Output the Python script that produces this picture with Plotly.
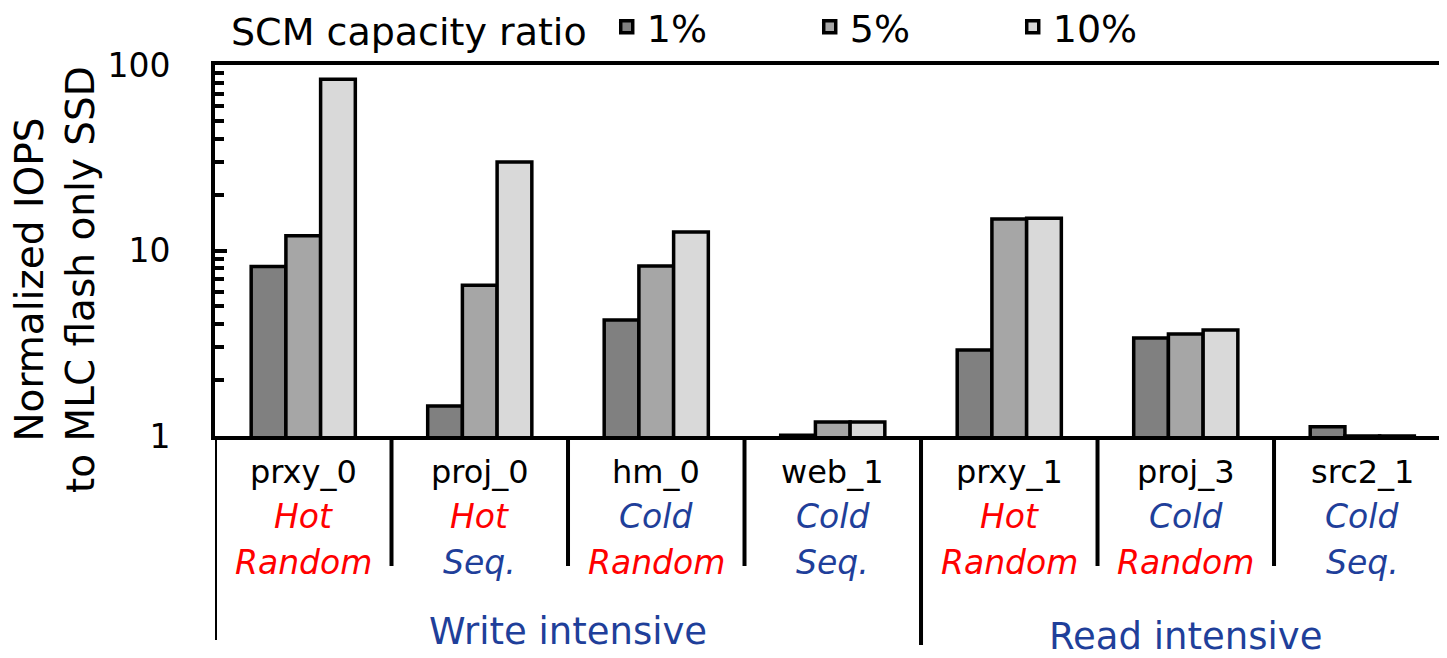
import plotly.graph_objects as go

categories = ["prxy_0", "proj_0", "hm_0", "web_1", "prxy_1", "proj_3", "src2_1"]
temps = ["Hot", "Hot", "Cold", "Cold", "Hot", "Cold", "Cold"]
patterns = ["Random", "Seq.", "Random", "Seq.", "Random", "Random", "Seq."]
series_names = ["1%", "5%", "10%"]
vals_1 = [8.2, 1.45, 4.22, 1.01, 2.91, 3.38, 1.12]
vals_5 = [12.0, 6.5, 8.25, 1.19, 14.8, 3.55, 1.0]
vals_10 = [83.7, 30.0, 12.6, 1.19, 14.9, 3.73, 1.0]
groups = ["Write intensive", "Read intensive"]
group_spans = [(0, 3), (4, 6)]
y_ticks = [1, 10, 100]

RED = "#ff0000"
BLUE = "#1f3f9a"
FONT = "DejaVu Sans, Liberation Sans, Arial, sans-serif"
colors = ["#808080", "#a6a6a6", "#d9d9d9"]

OFF = 8  # page body margin
W, H = 1447 - OFF, 658 - OFF
ML = 215 - OFF
MT = 65 - OFF
PLOT_BOTTOM = 436 - OFF
MB = H - PLOT_BOTTOM
PH = H - MT - MB
PW = W - ML

def col(word):
    return RED if word in ("Hot", "Random") else BLUE

def ypaper(page_y):
    return (PLOT_BOTTOM - (page_y - OFF)) / PH

def xpaper(page_x):
    return ((page_x - OFF) - ML) / PW

fig = go.Figure()
for name, vals, c in zip(series_names, [vals_1, vals_5, vals_10], colors):
    fig.add_trace(go.Bar(
        x=list(range(len(categories))), y=vals, name=name,
        marker=dict(color=c, line=dict(color="black", width=3.5)),
    ))

fig.update_layout(
    width=W, height=H,
    margin=dict(l=ML, r=0, t=MT, b=MB, autoexpand=False),
    plot_bgcolor="white", paper_bgcolor="white",
    barmode="group", bargap=0.41, bargroupgap=0,
    font=dict(family=FONT, size=32, color="black"),
    legend=dict(
        orientation="h", x=xpaper(229), xanchor="left",
        y=ypaper(27), yanchor="middle",
        title=dict(text="SCM capacity ratio ", font=dict(size=38, family=FONT)),
        font=dict(size=38, family=FONT), entrywidth=158, itemwidth=30,
        bgcolor="rgba(0,0,0,0)",
    ),
    xaxis=dict(
        range=[-0.5, 6.48], tickvals=list(range(len(categories))),
        showticklabels=False,
        showline=True, linecolor="black", linewidth=4, mirror=True,
        ticks="", showgrid=False, zeroline=False,
    ),
    yaxis=dict(
        type="log", range=[0, 2], tickvals=y_ticks, ticktext=[str(v) for v in y_ticks],
        showline=True, linecolor="black", linewidth=4,
        ticks="inside", ticklen=12, tickwidth=4, tickcolor="black",
        minor=dict(ticks="inside", ticklen=9, tickwidth=3.5, tickcolor="black", dtick="D1"),
        showgrid=False, zeroline=False, automargin=False,
        ticklabelstandoff=34,
        tickfont=dict(size=33, family=FONT, color="black"),
    ),
)

# y-axis title
fig.add_annotation(text="Normalized IOPS<br>to MLC flash only SSD", textangle=-90,
                   xref="paper", yref="paper", x=xpaper(55), y=ypaper(280),
                   xanchor="center", yanchor="middle", showarrow=False,
                   font=dict(size=39, family=FONT, color="black"))

# category labels (three rows)
for i, (c, t, p) in enumerate(zip(categories, temps, patterns)):
    fig.add_annotation(text=c, xref="x", yref="paper", x=i, y=ypaper(472),
                       yanchor="middle", showarrow=False,
                       font=dict(size=32, family=FONT, color="black"))
    fig.add_annotation(text=f"<i>{t}</i>", xref="x", yref="paper", x=i, y=ypaper(517),
                       yanchor="middle", showarrow=False,
                       font=dict(size=33, family=FONT, color=col(t)))
    fig.add_annotation(text=f"<i>{p}</i>", xref="x", yref="paper", x=i, y=ypaper(562),
                       yanchor="middle", showarrow=False,
                       font=dict(size=33, family=FONT, color=col(p)))

# separators below axis
for i in range(len(categories)):
    xpos = i - 0.5
    if i == 0:
        y1 = ypaper(640)
    elif i == 4:
        y1 = ypaper(645)
    else:
        y1 = ypaper(566)
    fig.add_shape(type="line", xref="x", yref="paper", x0=xpos, x1=xpos, y0=0, y1=y1,
                  line=dict(color="black", width=4), layer="above")

# group labels
for g, (a, b), py in zip(groups, group_spans, [631, 636]):
    fig.add_annotation(text=g, xref="x", yref="paper", x=(a + b) / 2, y=ypaper(py),
                       yanchor="middle", showarrow=False,
                       font=dict(size=37, family=FONT, color=BLUE))

fig.write_html("out.html")
